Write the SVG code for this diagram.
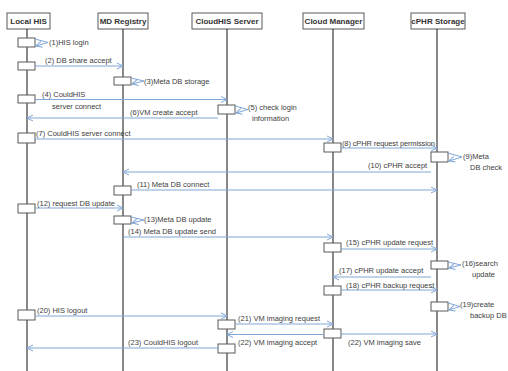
<svg xmlns="http://www.w3.org/2000/svg" width="508" height="371" viewBox="0 0 508 371">
<defs>
<marker id="ah" markerUnits="userSpaceOnUse" markerWidth="8" markerHeight="8" refX="7" refY="4" orient="auto">
<path d="M1,1 L7,4 L1,7" fill="none" stroke="#7fa6d6" stroke-width="1"/>
</marker>
</defs>
<style>
.hd{fill:#fff;stroke:#595959;stroke-width:1}
.ht{font-family:"Liberation Sans",Arial,sans-serif;font-size:8px;font-weight:bold;fill:#333;text-anchor:middle}
.ll{stroke:#3a3a3a;stroke-width:1.2}
.ab{fill:#fff;stroke:#595959;stroke-width:1}
.m{fill:none;stroke:#7fa6d6;stroke-width:1;marker-end:url(#ah)}
.t{font-family:"Liberation Sans",Arial,sans-serif;font-size:7.5px;fill:#404040}
</style>
<rect width="508" height="371" fill="#fff"/>
<g id="local-his">
<rect class="hd" x="7" y="13" width="43" height="16"/>
<text class="ht" x="28.5" y="24">Local  HIS</text>
<line class="ll" x1="27" y1="29" x2="27" y2="371"/>
</g>
<g id="md-registry">
<rect class="hd" x="98" y="13" width="50" height="16"/>
<text class="ht" x="123" y="24">MD Registry</text>
<line class="ll" x1="123" y1="29" x2="123" y2="371"/>
</g>
<g id="cloudhis-server">
<rect class="hd" x="192" y="13" width="70" height="16"/>
<text class="ht" x="227" y="24">CloudHIS  Server</text>
<line class="ll" x1="227" y1="29" x2="227" y2="371"/>
</g>
<g id="cloud-manager">
<rect class="hd" x="303" y="13" width="61" height="16"/>
<text class="ht" x="333.5" y="24">Cloud  Manager</text>
<line class="ll" x1="333" y1="29" x2="333" y2="371"/>
</g>
<g id="cphr-storage">
<rect class="hd" x="411" y="13" width="54" height="16"/>
<text class="ht" x="438" y="24">cPHR  Storage</text>
<line class="ll" x1="437" y1="29" x2="437" y2="371"/>
</g>
<g id="activations">
<rect class="ab" x="18" y="38" width="17" height="9"/>
<rect class="ab" x="18" y="62" width="17" height="8"/>
<rect class="ab" x="114" y="77" width="17" height="8"/>
<rect class="ab" x="18" y="95" width="17" height="8"/>
<rect class="ab" x="218" y="105" width="17" height="9"/>
<rect class="ab" x="18" y="133" width="17" height="10"/>
<rect class="ab" x="324" y="143" width="17" height="9"/>
<rect class="ab" x="431" y="152" width="17" height="10"/>
<rect class="ab" x="114" y="186" width="17" height="9"/>
<rect class="ab" x="18" y="204" width="17" height="9"/>
<rect class="ab" x="114" y="216" width="17" height="8"/>
<rect class="ab" x="324" y="243" width="17" height="9"/>
<rect class="ab" x="431" y="261" width="17" height="8"/>
<rect class="ab" x="324" y="286" width="17" height="9"/>
<rect class="ab" x="431" y="302" width="17" height="9"/>
<rect class="ab" x="18" y="310" width="17" height="10"/>
<rect class="ab" x="218" y="320" width="17" height="9"/>
<rect class="ab" x="324" y="329" width="17" height="9"/>
<rect class="ab" x="218" y="344" width="17" height="9"/>
</g>
<g id="connectors">
<path class="m" d="M35,39 L48,42.5 L36,46"/>
<path class="m" d="M35,66 L123,66"/>
<path class="m" d="M131,78 L144,81 L132,84"/>
<path class="m" d="M35,99.5 L227,99.5"/>
<path class="m" d="M235,106 L248,109.5 L236,113"/>
<path class="m" d="M218,118 L27,118"/>
<path class="m" d="M35,139 L333,139"/>
<path class="m" d="M341,148 L437,148"/>
<path class="m" d="M448,153 L462,157 L449,161"/>
<path class="m" d="M431,172 L123,172"/>
<path class="m" d="M131,190 L437,190"/>
<path class="m" d="M35,208 L123,208"/>
<path class="m" d="M131,217 L144,220 L132,223"/>
<path class="m" d="M123,237 L333,237"/>
<path class="m" d="M341,249 L437,249"/>
<path class="m" d="M448,262 L461,265 L449,268"/>
<path class="m" d="M431,277 L333,277"/>
<path class="m" d="M341,290 L437,290"/>
<path class="m" d="M448,303 L460,306.5 L449,310"/>
<path class="m" d="M35,316 L227,316"/>
<path class="m" d="M235,324 L333,324"/>
<path class="m" d="M324,334.5 L227,334.5"/>
<path class="m" d="M341,334 L437,334"/>
<path class="m" d="M218,348 L27,348"/>
</g>
<g id="labels">
<text class="t" x="49" y="45">(1)HIS login</text>
<text class="t" x="45" y="63">(2)  DB  share  accept</text>
<text class="t" x="144" y="84">(3)Meta  DB  storage</text>
<text class="t" x="42" y="97">(4)  CouldHIS</text>
<text class="t" x="52" y="109">server  connect</text>
<text class="t" x="248" y="110">(5)  check  login</text>
<text class="t" x="252" y="121">information</text>
<text class="t" x="130" y="115">(6)VM  create  accept</text>
<text class="t" x="36" y="136">(7)  CouldHIS  server  connect</text>
<text class="t" x="342" y="146" textLength="93" lengthAdjust="spacing">(8) cPHR request permission</text>
<text class="t" x="463" y="159">(9)Meta</text>
<text class="t" x="470" y="170">DB  check</text>
<text class="t" x="368" y="168">(10)  cPHR  accept</text>
<text class="t" x="137" y="187">(11)  Meta  DB  connect</text>
<text class="t" x="37" y="206">(12)  request  DB  update</text>
<text class="t" x="144" y="222">(13)Meta  DB  update</text>
<text class="t" x="128" y="234">(14)  Meta  DB  update  send</text>
<text class="t" x="346" y="245">(15)  cPHR  update  request</text>
<text class="t" x="462" y="266">(16)search</text>
<text class="t" x="472" y="277">update</text>
<text class="t" x="339" y="273">(17)  cPHR  update  accept</text>
<text class="t" x="346" y="288">(18)  cPHR  backup  request</text>
<text class="t" x="460" y="307">(19)create</text>
<text class="t" x="470" y="318">backup  DB</text>
<text class="t" x="37" y="313">(20)   HIS  logout</text>
<text class="t" x="238" y="321">(21)  VM  imaging  request</text>
<text class="t" x="238" y="345">(22)  VM  imaging  accept</text>
<text class="t" x="348" y="345">(22)  VM  imaging  save</text>
<text class="t" x="128" y="345">(23)  CouldHIS  logout</text>
</g>
</svg>
